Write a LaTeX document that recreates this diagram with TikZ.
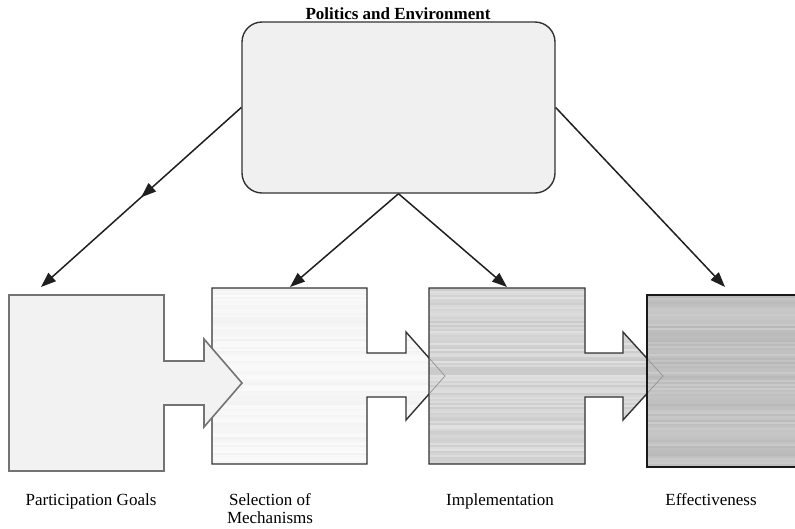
\documentclass[tikz,border=0pt]{standalone}
\usepackage{fontspec}
\setmainfont{Liberation Serif}
\usetikzlibrary{arrows.meta,decorations.markings}
\tikzset{
  conn/.style={line width=1.5pt, draw=black!88, -{Triangle[length=15pt,width=11pt]}},
  boxborder/.style={line width=1.4pt, draw=black!80, line join=miter},
  lbl/.style={font=\fontsize{17}{18}\selectfont, align=center, inner sep=0pt},
  tipghost/.style={draw=black!40, line width=0.8pt}
}
\newcommand\stripes[6]{% x1 x2 y1 y2 min range
  \pgfmathtruncatemacro\ysecond{#3+2}
  \foreach \yy in {#3,\ysecond,...,#4}{
    \pgfmathsetmacro\cc{#5+rnd*#6}
    \draw[line width=2.1pt, draw=black!\cc] (#1,\yy) -- (#2,\yy);
  }}
\begin{document}
\begin{tikzpicture}[x=1pt,y=-1pt]
\useasboundingbox (0,0) rectangle (795,528);
\clip (0,0) rectangle (795,528);
\pgfmathsetseed{11}

% top box
\node[draw=black!80, line width=1.4pt, fill=black!6, rounded corners=20pt,
      minimum width=313pt, minimum height=171pt, inner sep=0pt] (pol) at (398.5,107.5) {};
\node[font=\bfseries\fontsize{17}{20}\selectfont, inner sep=0pt, anchor=base] (title) at (398,19) {Politics and Environment};

% box 2: Selection of Mechanisms
\path[save path=\shapeB] (212,288) -- (367,288) -- (367,353) -- (406,353) -- (406,332) -- (445,376) -- (406,420) -- (406,397) -- (367,397) -- (367,464) -- (212,464) -- cycle;
\begin{scope}
  \path[use path=\shapeB, clip];
  \fill[black!3] (205,280) rectangle (450,470);
  \stripes{205}{450}{288}{464}{1.5}{4}
\end{scope}
\path[use path=\shapeB, boxborder];

% box 1: Participation Goals
\path[save path=\shapeA] (9,295) -- (164,295) -- (164,361) -- (204,361) -- (204,339) -- (242,383) -- (204,427) -- (204,405) -- (164,405) -- (164,471) -- (9,471) -- cycle;
\path[use path=\shapeA, fill=black!5, line width=1.6pt, draw=black!55];

% box 3: Implementation
\path[save path=\shapeC] (429,288) -- (585,288) -- (585,353) -- (623,353) -- (623,332) -- (663,376) -- (623,420) -- (623,397) -- (585,397) -- (585,464) -- (429,464) -- cycle;
\begin{scope}
  \path[use path=\shapeC, clip];
  \fill[black!18] (420,280) rectangle (670,470);
  \stripes{420}{670}{288}{464}{12}{9}
\end{scope}
\path[use path=\shapeC, boxborder];
\begin{scope}
  \clip (430,289) rectangle (584,463);
  \draw[tipghost] (406,332) -- (445,376) -- (406,420);
\end{scope}

% box 4: Effectiveness
\path[save path=\shapeD] (647,295) -- (810,295) -- (810,467) -- (647,467) -- cycle;
\begin{scope}
  \path[use path=\shapeD, clip];
  \fill[black!26] (640,290) rectangle (810,470);
  \stripes{640}{810}{295}{467}{20}{8}
\end{scope}
\path[use path=\shapeD, line width=1.9pt, draw=black!90];
\begin{scope}
  \clip (648,296) rectangle (800,466);
  \draw[tipghost] (623,332) -- (663,376) -- (623,420);
\end{scope}

% connector end points just above the boxes
\coordinate (g1) at (41,287);
\coordinate (g2) at (290,287);
\coordinate (g3) at (507,287);
\coordinate (g4) at (725,287);

\draw[conn, postaction={decorate, decoration={markings,
      mark=at position 0.5 with {\arrow{Triangle[length=15pt,width=11pt]}}}}] (pol.west) -- (g1);
\draw[conn] (pol.south) -- (g2);
\draw[conn] (pol.south) -- (g3);
\draw[conn] (pol.east) -- (g4);

% labels
\node[lbl, anchor=base] (l1) at (91,505) {Participation Goals};
\node[lbl, anchor=north] (l2) at (270,493) {Selection of\\Mechanisms};
\node[lbl, anchor=base] (l3) at (500,505) {Implementation};
\node[lbl, anchor=base] (l4) at (711,505) {Effectiveness};
\end{tikzpicture}
\end{document}
